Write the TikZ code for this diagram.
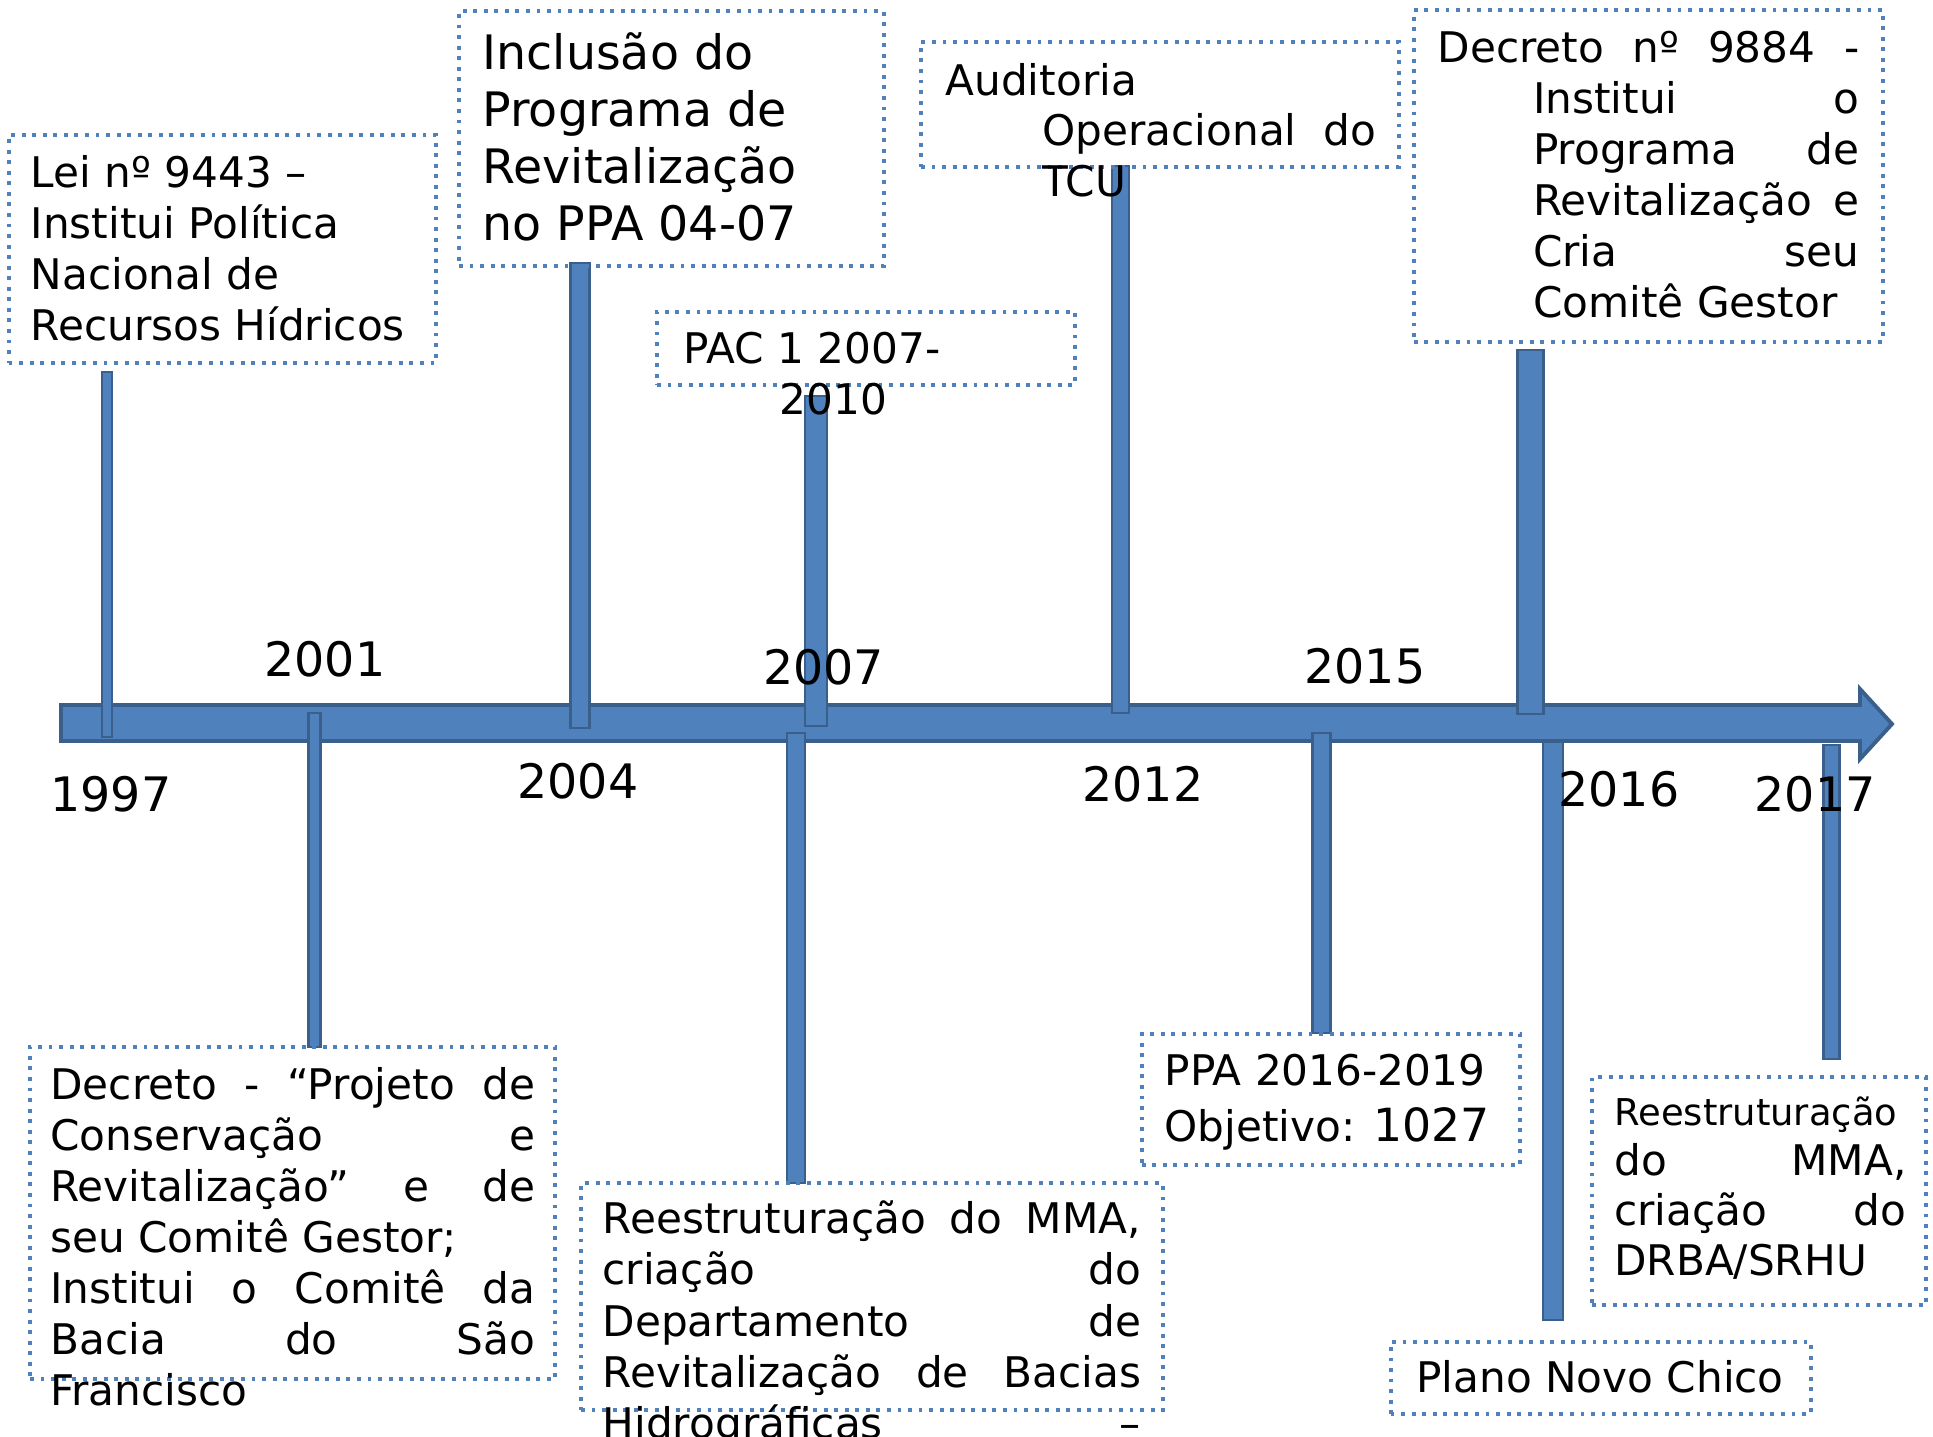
\documentclass[tikz,border=0pt]{standalone}
\usepackage{fontspec}
\setmainfont{DejaVu Sans}
\usetikzlibrary{fit}
\definecolor{tlblue}{HTML}{4F81BD}
\definecolor{tldark}{HTML}{3A5F8B}
\tikzset{
    evbox/.style={draw=tlblue, line width=1.1pt, dash pattern=on 1.1pt off 1.9pt, inner sep=0pt},
    evtext/.style={anchor=base west, inner sep=0pt, font=\fontsize{12}{14.5}\selectfont},
    yeartext/.style={anchor=base, inner sep=0pt, font=\fontsize{13.5}{16}\selectfont},
    stem/.style={fill=tlblue, draw=tldark, line width=0.8pt},
    axis/.style={fill=tlblue, draw=tldark, line width=1.1pt, line join=miter}
}
\begin{document}
\begin{tikzpicture}[x=0.01cm, y=-0.01cm]
    \useasboundingbox (0,0) rectangle (1933,1436);
    %draw time axis
    \filldraw[axis] (61,705) -- (1860,705) -- (1860,689) -- (1892,724) -- (1860,759) -- (1860,741) -- (61,741) -- cycle;
    %draw stems
    \foreach \x/\ya/\yb/\w in {107/372/737/10, 314.5/713/1047/12, 580/263/728/19, 816/396/726/22,
        796/733/1183/18, 1120.5/166/713/17, 1321.7/733/1033/18, 1530.5/350/714/26,
        1553/742/1320/20, 1831.5/745/1059/16}
        {%
            \filldraw[stem] (\x-\w/2,\ya) rectangle (\x+\w/2,\yb);
        }
    %draw boxes
    \node[evbox, fit={(8.6,135) (436,362.7)}] (lei) {};
    \node[evbox, fit={(459,11) (884,265.7)}] (ppa) {};
    \node[evbox, fit={(657,311.7) (1074.6,385)}] (pac) {};
    \node[evbox, fit={(921,41.7) (1398.7,166.7)}] (tcu) {};
    \node[evbox, fit={(1413.8,10) (1882.9,341.7)}] (dec) {};
    \node[evbox, fit={(30,1046.7) (555.4,1379.3)}] (proj) {};
    \node[evbox, fit={(581,1183.3) (1162.7,1410)}] (mma) {};
    \node[evbox, fit={(1141.8,1034) (1520.3,1165)}] (obj) {};
    \node[evbox, fit={(1591.8,1077.3) (1926.2,1305)}] (drba) {};
    \node[evbox, fit={(1390.6,1341.7) (1810.6,1414.3)}] (chico) {};
    %draw box texts
    \node[evtext] (leitxt) at (30,187.3) {\parbox[t]{4cm}{Lei nº 9443 –\\Institui Política\\Nacional de\\Recursos Hídricos}};
    \node[evtext, font=\fontsize{13.5}{16.3}\selectfont] (ppatxt) at (482,69) {\parbox[t]{4cm}{Inclusão do\\Programa de\\Revitalização\\no PPA 04-07}};
    \node[evtext] (pactxt) at (683,363.3) {\parbox[t]{3.8cm}{PAC 1 2007-\\\hspace*{0.96cm}2010}};
    \node[evtext] (tcutxt) at (944.8,95) {\parbox[t]{4.31cm}{Auditoria\\
        \hspace*{0.968cm}\makebox[3.34cm][s]{Operacional do}\\
        \hspace*{0.968cm}TCU}};
    \node[evtext] (dectxt) at (1436.9,62.3) {\parbox[t]{4.216cm}{\makebox[\linewidth][s]{Decreto nº 9884 -}\\
        \hspace*{0.955cm}\makebox[3.261cm][s]{Institui o}\\
        \hspace*{0.955cm}\makebox[3.261cm][s]{Programa de}\\
        \hspace*{0.955cm}\makebox[3.261cm][s]{Revitalização e}\\
        \hspace*{0.955cm}\makebox[3.261cm][s]{Cria seu}\\
        \hspace*{0.955cm}Comitê Gestor}};
    \node[evtext] (projtxt) at (49.7,1099.3) {\parbox[t]{4.846cm}{\makebox[\linewidth][s]{Decreto - “Projeto de}\\
        \makebox[\linewidth][s]{Conservação e}\\
        \makebox[\linewidth][s]{Revitalização” e de}\\
        seu Comitê Gestor;\\
        \makebox[\linewidth][s]{Institui o Comitê da}\\
        \makebox[\linewidth][s]{Bacia do São}\\
        Francisco}};
    \node[evtext, font=\fontsize{12}{14.6}\selectfont] (mmatxt) at (602,1233.3) {\parbox[t]{5.38cm}{\makebox[\linewidth][s]{Reestruturação do MMA,}\\
        \makebox[\linewidth][s]{criação do}\\
        \makebox[\linewidth][s]{Departamento de}\\
        \makebox[\linewidth][s]{Revitalização de Bacias}\\
        \makebox[\linewidth][s]{Hidrográficas –}}};
    \node[evtext, font=\fontsize{12}{15.9}\selectfont] (objtxt) at (1164,1085.7) {\parbox[t]{3.4cm}{PPA 2016-2019\\Objetivo: {\fontsize{13}{15.9}\selectfont 1027}}};
    \node[evtext, font=\fontsize{12}{14.3}\selectfont] (drbatxt) at (1613.6,1125) {\parbox[t]{2.919cm}{{\fontsize{10.5}{14.3}\selectfont Reestruturação}\\
        \makebox[\linewidth][s]{do MMA,}\\
        \makebox[\linewidth][s]{criação do}\\
        DRBA/SRHU}};
    \node[evtext] (chicotxt) at (1415.5,1392.7) {Plano Novo Chico};
    %draw years
    \node[yeartext] (y1997) at (111,811.7) {1997};
    \node[yeartext] (y2001) at (324.9,676) {2001};
    \node[yeartext] (y2004) at (578,798.3) {2004};
    \node[yeartext] (y2007) at (823.5,684.3) {2007};
    \node[yeartext] (y2012) at (1143,801) {2012};
    \node[yeartext] (y2015) at (1365,683.3) {2015};
    \node[yeartext] (y2016) at (1619,806) {2016};
    \node[yeartext] (y2017) at (1815,811.7) {2017};
\end{tikzpicture}
\end{document}
